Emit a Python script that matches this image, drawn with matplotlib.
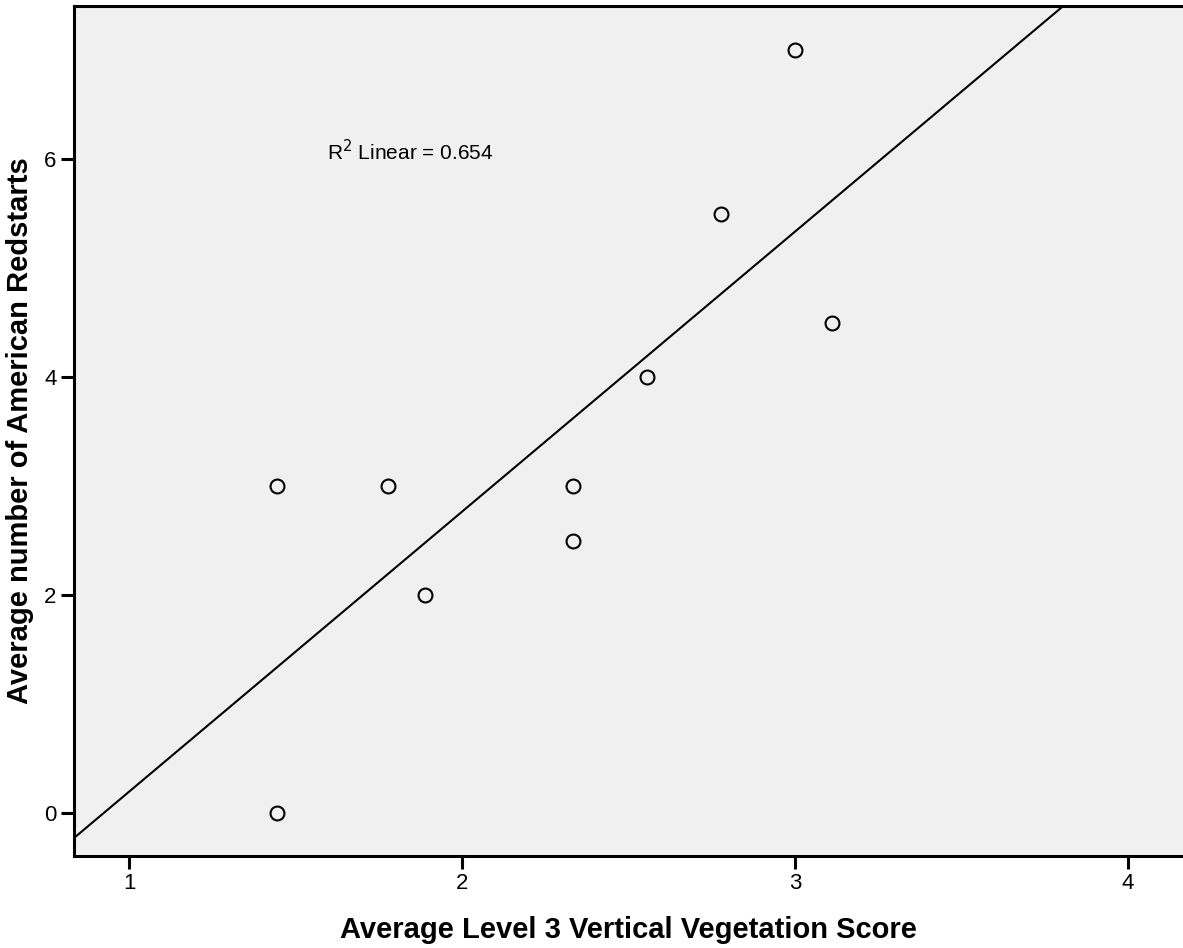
import numpy as np
import matplotlib
matplotlib.use("Agg")
import matplotlib.pyplot as plt

plt.rcParams['font.family'] = ['Liberation Sans', 'DejaVu Sans']

# Site averages: level 3 vegetation score vs. redstart counts
veg_score = [1.444, 1.444, 1.778, 1.889, 2.333, 2.333, 2.556, 2.778, 3.000, 3.111]
redstarts = [0.0, 3.0, 3.0, 2.0, 3.0, 2.5, 4.0, 5.5, 7.0, 4.5]
x_ticks = [1, 2, 3, 4]
y_ticks = [0, 2, 4, 6]

x = np.array(veg_score)
y = np.array(redstarts)
slope, intercept = np.polyfit(x, y, 1)
pred = slope * x + intercept
r2 = 1 - np.sum((y - pred) ** 2) / np.sum((y - y.mean()) ** 2)

fig = plt.figure(figsize=(11.83, 9.48), dpi=100)
ax = fig.add_axes([0.0626, 0.097, 0.9374, 0.8967])
ax.set_facecolor('#f0f0f0')

xlim = (0.835, 4.165)
ylim = (-0.394, 7.404)
ax.set_xlim(*xlim)
ax.set_ylim(*ylim)

xs = np.array(xlim)
ax.plot(xs, slope * xs + intercept, color='black', lw=1.5, zorder=2)
ax.plot(x, y, linestyle='none', marker='o', markersize=10,
        markerfacecolor='none', markeredgecolor='black', markeredgewidth=1.5, zorder=3)

ax.text(1.595, 6.07, f"R$^2$ Linear = {r2:.3f}", fontsize=15, va='center', ha='left')

ax.set_xticks(x_ticks)
ax.set_yticks(y_ticks)
ax.tick_params(axis='both', direction='out', length=9.5, width=2.2, labelsize=16, pad=3)
ax.spines['right'].set_visible(False)
for s in ('left', 'bottom', 'top'):
    ax.spines[s].set_linewidth(2.2)

ax.set_xlabel('Average Level 3 Vertical Vegetation Score', fontsize=21, fontweight='bold', va='center')
ax.xaxis.set_label_coords(0.5, -74 / 850)
ax.set_ylabel('Average number of American Redstarts', fontsize=21, fontweight='bold', va='center')
ax.yaxis.set_label_coords(-54 / 1109, 0.5)

fig.savefig('out.png', dpi=100)
